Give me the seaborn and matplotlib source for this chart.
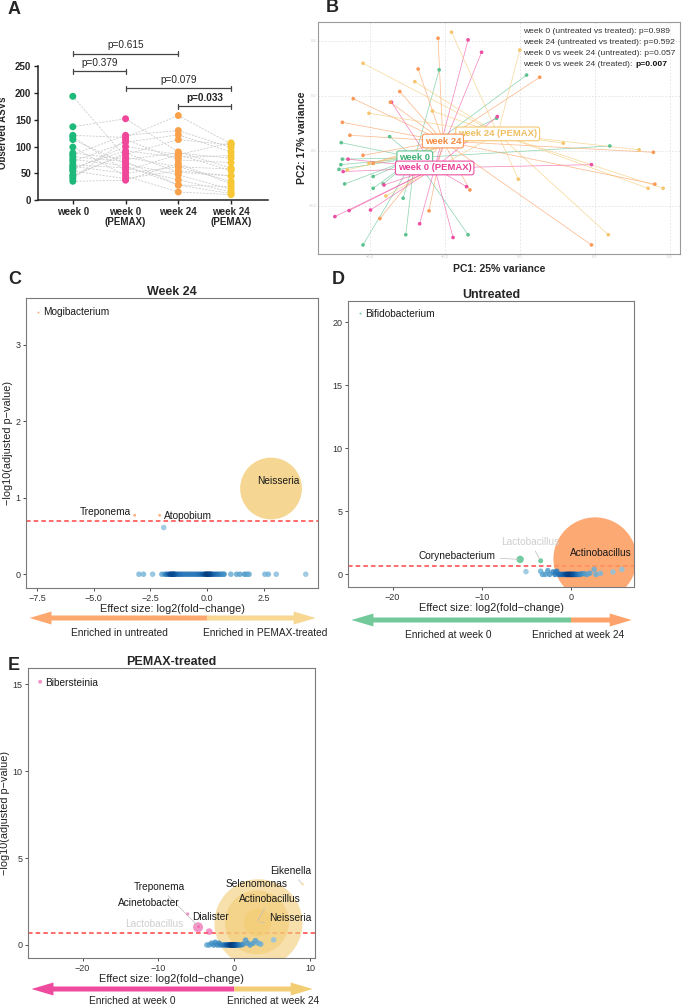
import numpy as np
import pandas as pd
import matplotlib
matplotlib.use("Agg")
import matplotlib.pyplot as plt
import seaborn as sns

# ---------------- A: observed ASVs (same index = same subject) ----------------
a_groups = ["week 0", "week 0\n(PEMAX)", "week 24", "week 24\n(PEMAX)"]
asv_week0 = [194, 137, 121, 113, 99, 85, 81, 72, 66, 60, 54, 47, 40, 35, 118, 88, 76, 63, 57, 44]
asv_week0_pemax = [80, 152, 117, 68, 45, 121, 72, 108, 60, 92, 40, 85, 113, 37, 55, 76, 64, 50, 100, 88]
asv_week24 = [62, 90, 158, 47, 15, 130, 28, 122, 38, 80, 55, 113, 75, 68, 85, 88, 28, 62, 85, 52]
asv_week24_pemax = [35, 60, 105, 20, 10, 98, 25, 90, 15, 83, 45, 103, 70, 30, 55, 78, 12, 58, 107, 45]
a_pairs = [(0, 2), (0, 1), (1, 3), (2, 3)]
a_pvals = ["p=0.615", "p=0.379", "p=0.079", "p=0.033"]
a_signif = [False, False, False, True]

# ---------------- B: PCoA ----------------
pc_groups = ["week 0", "week 0 (PEMAX)", "week 24", "week 24 (PEMAX)"]
pc1_week0 = [-0.215, 0.018, -0.347, -0.476, -0.473, -0.477, -0.482, -0.467, -0.391,
             -0.364, -0.391, -0.311, -0.418, -0.304, -0.138, 0.240, -0.062]
pc2_week0 = [0.295, 0.276, 0.052, 0.030, -0.030, -0.050, -0.067, -0.120, -0.093,
             -0.120, -0.136, -0.172, -0.342, -0.305, -0.305, 0.018, 0.119]
pc1_week0_pemax = [-0.138, -0.102, -0.342, -0.060, 0.191, -0.458, -0.471, -0.493,
                   -0.455, -0.398, -0.362, -0.267, -0.178, -0.142]
pc2_week0_pemax = [0.404, 0.359, 0.177, 0.125, -0.050, -0.030, -0.075, -0.239,
                   -0.217, -0.215, -0.124, -0.265, -0.315, -0.130]
pc1_week24 = [-0.218, -0.271, -0.320, -0.444, -0.345, -0.473, -0.453, -0.418,
              -0.391, -0.373, -0.242, -0.133, 0.053, 0.356, 0.360, 0.191]
pc2_week24 = [0.410, 0.298, 0.216, 0.190, 0.177, 0.104, 0.057, -0.016,
              -0.045, -0.246, -0.218, -0.142, 0.268, -0.005, -0.121, -0.342]
pc1_week24_pemax = [-0.182, -0.418, -0.280, -0.402, -0.233, 0.000, -0.460, -0.357,
                    -0.004, 0.318, 0.382, 0.342, 0.236, 0.116, -0.402]
pc2_week24_pemax = [0.432, 0.319, 0.252, 0.137, 0.145, 0.367, -0.069, -0.164,
                    -0.103, 0.004, -0.136, -0.136, -0.305, 0.028, -0.045]
pc1_centroid = [-0.280, -0.227, -0.205, -0.059]
pc2_centroid = [-0.025, -0.062, 0.036, 0.062]
b_stats = ["week 0 (untreated vs treated): p=0.989",
           "week 24 (untreated vs treated): p=0.592",
           "week 0 vs week 24 (untreated): p=0.057",
           "week 0 vs week 24 (treated): "]
b_stat_bold = "p=0.007"

# ---------------- C: week 24, untreated vs PEMAX ----------------
c_bg_lfc = [-3.0, -2.8, -2.4, -1.99, -1.85, -1.75, -1.65, -1.6, -1.55, -1.5, -1.45, -1.4,
            -1.3, -1.2, -1.1, -1.0, -0.9, -0.8, -0.7, -0.6, -0.5, -0.4, -0.3, -0.2,
            -0.1, -0.05, 0.0, 0.05, 0.1, 0.15, 0.2, 0.3, 0.4, 0.5, 0.6, 0.7,
            0.75, 1.05, 1.3, 1.45, 1.65, 1.75, 1.85, 2.55, 2.7, 3.05, 4.35, -1.91]
c_bg_p = [0.0, 0.0, 0.0, 0.0, 0.0, 0.0, 0.0, 0.0, 0.0, 0.0, 0.0, 0.0,
          0.0, 0.0, 0.0, 0.0, 0.0, 0.0, 0.0, 0.0, 0.0, 0.0, 0.0, 0.0,
          0.0, 0.0, 0.0, 0.0, 0.0, 0.0, 0.0, 0.0, 0.0, 0.0, 0.0, 0.0,
          0.0, 0.0, 0.0, 0.0, 0.0, 0.0, 0.0, 0.0, 0.0, 0.0, 0.0, 0.61]
c_genus = ["Mogibacterium", "Treponema", "Atopobium", "Neisseria"]
c_lfc = [-7.43, -3.19, -2.09, 2.82]
c_padj = [3.42, 0.77, 0.77, 1.12]
c_abund = [0.01, 0.02, 0.02, 9.9]

# ---------------- D: untreated, week 0 vs week 24 ----------------
d_bg_lfc = [-5.05, -3.4, -3.2, -2.9, -2.6, -2.4, -2.0, -1.8, -1.7, -1.6,
            -1.4, -1.2, -1.0, -0.8, -0.6, -0.5, -0.4, -0.3, -0.2, -0.1,
            0.0, 0.1, 0.2, 0.3, 0.4, 0.6, 0.8, 1.0, 1.2, 1.5,
            1.8, 2.1, 2.6, 2.8, 3.3, 4.7, 5.7]
d_bg_p = [0.22, 0.25, 0.0, 0.0, 0.3, 0.0, 0.2, 0.0, 0.15, 0.25,
          0.0, 0.0, 0.0, 0.0, 0.0, 0.0, 0.0, 0.0, 0.0, 0.0,
          0.0, 0.0, 0.0, 0.0, 0.0, 0.0, 0.0, 0.0, 0.05, 0.05,
          0.0, 0.1, 0.4, 0.0, 0.08, 0.2, 0.4]
d_genus = ["Bifidobacterium", "Corynebacterium", "Lactobacillus", "Actinobacillus"]
d_lfc = [-23.6, -5.7, -3.4, 2.7]
d_padj = [20.7, 1.19, 1.08, 1.22]
d_abund = [0.01, 0.14, 0.065, 18.0]

# ---------------- E: PEMAX-treated, week 0 vs week 24 ----------------
e_bg_lfc = [-3.6, -3.3, -3.0, -2.7, -2.5, -2.2, -2.0, -1.8, -1.5, -1.2,
            -1.0, -0.8, -0.6, -0.5, -0.4, -0.3, -0.2, -0.1, 0.0, 0.1,
            0.2, 0.4, 0.6, 0.9, 1.2, 1.5, 1.8, 2.1, 2.5, 2.8,
            3.2, 3.5, 5.2]
e_bg_p = [0.0, 0.0, 0.1, 0.0, 0.15, 0.0, 0.1, 0.0, 0.0, 0.0,
          0.0, 0.0, 0.0, 0.0, 0.0, 0.0, 0.0, 0.0, 0.0, 0.0,
          0.0, 0.0, 0.0, 0.0, 0.05, 0.28, 0.1, 0.0, 0.1, 0.25,
          0.1, 0.05, 0.3]
e_genus = ["Bibersteinia", "Acinetobacter", "Treponema", "Lactobacillus", "Dialister",
           "Neisseria", "Actinobacillus", "Selenomonas", "Eikenella"]
e_lfc = [-25.6, -6.15, -4.7, -4.77, -3.3, 3.2, 3.0, 3.1, 9.0]
e_padj = [15.15, 1.78, 1.05, 1.02, 0.77, 1.25, 1.3, 1.3, 3.5]
e_abund = [0.04, 0.03, 0.02, 0.26, 0.115, 20.1, 10.6, 2.0, 0.02]

# ---------------- layout / style ----------------
W, H = 685, 1006
sns.set_style("ticks")
plt.rcParams["font.family"] = ["Liberation Sans", "DejaVu Sans"]
plt.rcParams["axes.unicode_minus"] = True

a_colors = ["#1DB97A", "#F0479B", "#F9A24B", "#F7C735"]
b_colors = ["#5CC28F", "#EE4FA2", "#FA9856", "#F5C66E"]
b_text_colors = ["#3DAE74", "#E93F96", "#F58A40", "#EDBE62"]


def box(l, t, r, b):
    return [l / W, 1 - b / H, (r - l) / W, (b - t) / H]


fig = plt.figure(figsize=(W / 100, H / 100), dpi=100)

for letter, (px, py) in zip("ABCDE", [(14, 9), (332, 8), (15, 279), (338, 280), (14, 665)]):
    fig.text(px / W, 1 - py / H, letter, ha="center", va="center", fontsize=13, fontweight="bold")

# ---------------- panel A ----------------
rows = []
for gi, vals in enumerate([asv_week0, asv_week0_pemax, asv_week24, asv_week24_pemax]):
    for si, v in enumerate(vals):
        rows.append({"group": a_groups[gi], "pos": gi, "subject": si, "asv": v})
dfa = pd.DataFrame(rows)

axA = fig.add_axes(box(38, 45, 268, 200))
sns.lineplot(data=dfa, x="pos", y="asv", units="subject", estimator=None, color="#cccccc",
             linewidth=0.6, linestyle=(0, (2.5, 1.5)), ax=axA, zorder=1, legend=False)
sns.stripplot(data=dfa, x="pos", y="asv", hue="group", palette=dict(zip(a_groups, a_colors)),
              jitter=False, size=5, linewidth=0, native_scale=True, legend=False, ax=axA, zorder=3)
axA.set_xlim(-0.66, 3.7)
axA.set_ylim(0, 290)
axA.set_yticks(range(0, 251, 50))
axA.set_yticklabels([str(v) for v in range(0, 251, 50)], fontsize=7, fontweight="bold")
axA.set_xticks(range(4))
axA.set_xticklabels(a_groups, fontsize=7, fontweight="bold", linespacing=1.05)
axA.spines["left"].set_bounds(0, 250)
for s in ["top", "right"]:
    axA.spines[s].set_visible(False)
for s in ["left", "bottom"]:
    axA.spines[s].set_linewidth(1.1)
    axA.spines[s].set_color("#222222")
axA.tick_params(length=3, width=1.0, color="#222222", pad=2)
axA.set_xlabel("")
axA.set_ylabel("Observed ASVs", fontsize=7, fontweight="bold")
axA.yaxis.set_label_coords(-0.13, 125 / 290)
a_bracket_y = [274, 241, 209, 175]
for (i, j), h, txt, bold in zip(a_pairs, a_bracket_y, a_pvals, a_signif):
    axA.plot([i, j], [h, h], color="#444444", lw=0.9, clip_on=False)
    for e in (i, j):
        axA.plot([e, e], [h - 5, h + 5], color="#444444", lw=0.9, clip_on=False)
    axA.text((i + j) / 2, h + 6, txt, ha="center", va="bottom", fontsize=7.2,
             fontweight="bold" if bold else "normal", color="#222222")

# ---------------- panel B ----------------
axB = fig.add_axes(box(318, 22, 680, 254))
pc1_all = [pc1_week0, pc1_week0_pemax, pc1_week24, pc1_week24_pemax]
pc2_all = [pc2_week0, pc2_week0_pemax, pc2_week24, pc2_week24_pemax]
rows = []
for gi, g in enumerate(pc_groups):
    for x, y in zip(pc1_all[gi], pc2_all[gi]):
        rows.append({"group": g, "pc1": x, "pc2": y})
        axB.plot([pc1_centroid[gi], x], [pc2_centroid[gi], y], color=b_colors[gi],
                 lw=0.55, alpha=0.65, zorder=2)
dfb = pd.DataFrame(rows)
sns.scatterplot(data=dfb, x="pc1", y="pc2", hue="group", palette=dict(zip(pc_groups, b_colors)),
                s=7, linewidth=0, legend=False, ax=axB, zorder=3)
for gi in [0, 1, 3, 2]:
    g = pc_groups[gi]
    axB.text(pc1_centroid[gi], pc2_centroid[gi], g, ha="center", va="center", fontsize=6.8,
             fontweight="bold", color=b_text_colors[gi], zorder=6,
             bbox=dict(boxstyle="round,pad=0.25,rounding_size=0.25", fc="white", ec=b_colors[gi], lw=0.8))
axB.set_xlim(-0.538, 0.427)
axB.set_ylim(-0.375, 0.469)
axB.set_xticks([-0.4, -0.2, 0.0, 0.2, 0.4])
axB.set_yticks([-0.2, 0.0, 0.2, 0.4])
axB.tick_params(length=0, labelsize=3, labelcolor="#cccccc", pad=1)
axB.grid(True, color="#e2e2e2", lw=0.6, ls=(0, (2, 2)))
for s in axB.spines.values():
    s.set_color("#9a9a9a")
    s.set_linewidth(0.8)
axB.set_xlabel("PC1: 25% variance", fontsize=7.5, fontweight="bold", labelpad=3)
axB.set_ylabel("PC2: 17% variance", fontsize=7.5, fontweight="bold", labelpad=1)
for k, line in enumerate(b_stats):
    t = axB.text(0.567, 0.972 - k * 0.047, line, transform=axB.transAxes, ha="left",
                 va="top", fontsize=6.1, color="#333333")
axB.annotate(b_stat_bold, xy=(1, 0), xycoords=t, ha="left", va="bottom", fontsize=6.1,
             fontweight="bold", color="#111111")


# ---------------- volcano panels ----------------
def volcano(ax, bg_x, bg_y, genus, lfc, padj, abund, neg_name, pos_name, colors, sig_alpha,
            xlim, ylim, xticks, xtick_fmt, yticks, title, labels, ylabel=True):
    sig = pd.DataFrame({"genus": genus, "lfc": lfc, "p": padj, "abund": abund})
    sig["enriched"] = np.where(sig["lfc"] < 0, neg_name, pos_name)
    ax.axhline(-np.log10(0.2), color="#FF3030", ls=(0, (3, 2)), lw=1.1, alpha=0.9, zorder=1)
    sns.scatterplot(data=sig, x="lfc", y="p", hue="enriched", palette=colors, size="abund",
                    sizes=(0, 5000), size_norm=(0, 25), alpha=sig_alpha, linewidth=0,
                    legend=False, ax=ax, zorder=2)
    bg = pd.DataFrame({"lfc": bg_x, "p": bg_y})
    bwx = 0.015 * (xlim[1] - xlim[0])
    bwy = 0.02 * (ylim[1] - ylim[0])
    xv = bg["lfc"].values
    yv = bg["p"].values
    dens = np.exp(-0.5 * (((xv[:, None] - xv[None, :]) / bwx) ** 2
                          + ((yv[:, None] - yv[None, :]) / bwy) ** 2)).sum(1)
    bg["dens"] = dens
    span = dens.max() - dens.min()
    sns.scatterplot(data=bg, x="lfc", y="p", hue="dens", palette="Blues",
                    hue_norm=(dens.min() - 0.75 * span, dens.max() + 0.1 * span), s=16,
                    linewidth=0, alpha=0.85, legend=False, ax=ax, zorder=3)
    pts = sig.set_index("genus")
    for g, tx, ty, ha, col, lead in labels:
        px, py = pts.loc[g, "lfc"], pts.loc[g, "p"]
        if lead:
            ax.annotate(g, xy=(px, py), xytext=(tx, ty), ha=ha, va="center", fontsize=7.3,
                        color=col, zorder=6,
                        arrowprops=dict(arrowstyle="-", color="#bdbdbd", lw=0.5,
                                        shrinkA=1, shrinkB=1))
        else:
            ax.text(tx, ty, g, ha=ha, va="center", fontsize=7.3, color=col, zorder=6)
    ax.set_xlim(xlim)
    ax.set_ylim(ylim)
    ax.set_xticks(xticks)
    ax.set_xticklabels([xtick_fmt.format(v).replace("-", "\u2212") for v in xticks])
    ax.set_yticks(yticks)
    ax.set_yticklabels([str(v) for v in yticks])
    ax.tick_params(length=2.5, width=0.6, color="#333333", labelsize=6.5,
                   labelcolor="#333333", pad=1.5)
    for s in ax.spines.values():
        s.set_color("#7a7a7a")
        s.set_linewidth(0.8)
    ax.set_title(title, fontsize=9, fontweight="bold", pad=2)
    ax.set_xlabel("Effect size: log2(fold\u2212change)", fontsize=7.8, labelpad=1, color="#222222")
    if ylabel:
        ax.set_ylabel("\u2212log10(adjusted p\u2212value)", fontsize=7.8, labelpad=2, color="#222222")
    else:
        ax.set_ylabel("")


def enrich_arrow(px_box, xlim, left_col, right_col, head_px, texts, text_x, text_y=-1.0):
    axr = fig.add_axes(box(*px_box))
    axr.set_xlim(xlim)
    axr.set_ylim(-1, 1)
    axr.axis("off")
    span = xlim[1] - xlim[0]
    hl = head_px / (px_box[2] - px_box[0]) * span
    axr.arrow(0, 0, xlim[0] + 0.012 * span, 0, width=0.5, head_width=1.3, head_length=hl,
              length_includes_head=True, color=left_col, lw=0)
    axr.arrow(0, 0, xlim[1] - 0.008 * span, 0, width=0.5, head_width=1.3, head_length=hl,
              length_includes_head=True, color=right_col, lw=0)
    for txt, tx in zip(texts, text_x):
        axr.text(tx, text_y, txt, ha="center", va="top", fontsize=7.3, color="#222222", clip_on=False)


dark = "#1a1a1a"
faint = "#cfcfcf"

axC = fig.add_axes(box(26, 298, 318, 588))
volcano(axC, c_bg_lfc, c_bg_p, c_genus, c_lfc, c_padj, c_abund, "untreated", "PEMAX-treated",
        {"untreated": "#FC9A5E", "PEMAX-treated": "#F3CD78"}, 0.8,
        (-7.98, 4.89), (-0.18, 3.61), [-7.5, -5.0, -2.5, 0.0, 2.5], "{:.1f}", [0, 1, 2, 3],
        "Week 24",
        [("Mogibacterium", -7.24, 3.43, "left", dark, False),
         ("Treponema", -4.5, 0.81, "center", dark, False),
         ("Atopobium", -1.88, 0.76, "left", dark, False),
         ("Neisseria", 3.16, 1.22, "center", dark, False)])
enrich_arrow((26, 608, 318, 628), (-7.98, 4.89), "#FDA86F", "#F7D792", 22,
             ["Enriched in untreated", "Enriched in PEMAX-treated"], [-3.85, 2.55])

axD = fig.add_axes(box(348, 301, 634, 587))
volcano(axD, d_bg_lfc, d_bg_p, d_genus, d_lfc, d_padj, d_abund, "week 0", "week 24",
        {"week 0": "#5CC28F", "week 24": "#FD9A5C"}, 0.85,
        (-25.0, 7.06), (-1.0, 21.7), [-20, -10, 0], "{:d}", [0, 5, 10, 15, 20],
        "Untreated",
        [("Bifidobacterium", -23.1, 20.7, "left", dark, False),
         ("Corynebacterium", -12.8, 1.45, "center", dark, True),
         ("Lactobacillus", -4.6, 2.6, "center", faint, True),
         ("Actinobacillus", 3.3, 1.7, "center", dark, False)],
        ylabel=False)
enrich_arrow((348, 610, 634, 630), (-25.0, 7.06), "#74C99B", "#FDA36B", 22,
             ["Enriched at week 0", "Enriched at week 24"], [-13.8, 0.8])

axE = fig.add_axes(box(28, 668, 315, 958))
volcano(axE, e_bg_lfc, e_bg_p, e_genus, e_lfc, e_padj, e_abund, "week 0", "week 24",
        {"week 0": "#EE4FA2", "week 24": "#F3CC74"}, 0.6,
        (-27.2, 10.66), (-0.75, 15.94), [-20, -10, 0, 10], "{:d}", [0, 5, 10, 15],
        "PEMAX-treated",
        [("Bibersteinia", -24.9, 15.1, "left", dark, False),
         ("Treponema", -9.9, 3.36, "center", dark, True),
         ("Acinetobacter", -11.2, 2.4, "center", dark, False),
         ("Lactobacillus", -10.6, 1.2, "center", faint, False),
         ("Dialister", -3.15, 1.59, "center", dark, False),
         ("Eikenella", 7.4, 4.28, "center", dark, True),
         ("Selenomonas", 2.9, 3.5, "center", dark, False),
         ("Actinobacillus", 4.7, 2.65, "center", dark, True),
         ("Neisseria", 7.4, 1.57, "center", dark, True)])
enrich_arrow((28, 979, 315, 999), (-27.2, 10.66), "#EE4A9E", "#F3CD74", 22,
             ["Enriched at week 0", "Enriched at week 24"], [-13.5, 5.1], text_y=-0.75)

fig.savefig("out.png", dpi=100)
